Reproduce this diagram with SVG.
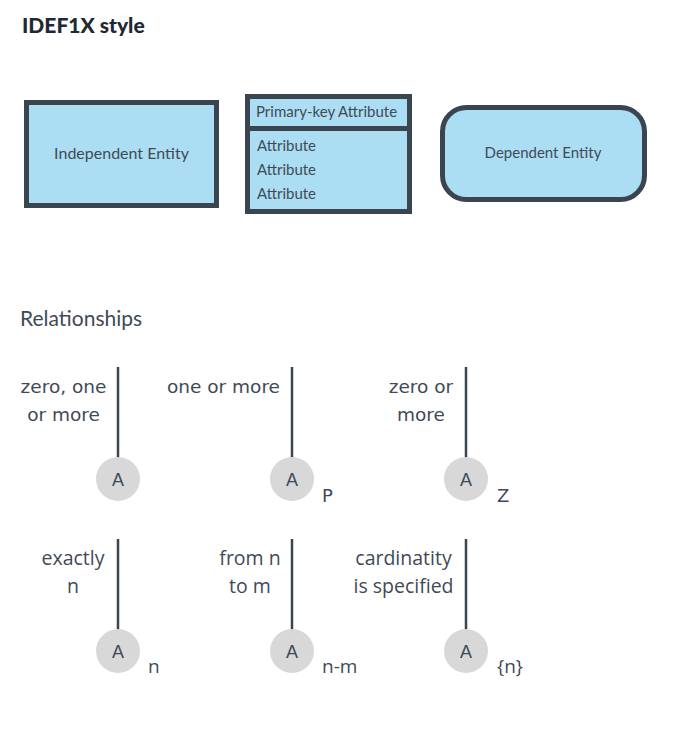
<svg xmlns="http://www.w3.org/2000/svg" width="691" height="730" viewBox="0 0 691 730">
<style>
.ent{fill:#acdef3;stroke:#3b4550;stroke-width:5}
.et{font-family:Lato,"Noto Sans",sans-serif;fill:#3f4a56}
.at{font-family:Lato,"Noto Sans",sans-serif;font-size:15px;fill:#3f4a56}
.conn line{stroke:#3b4550;stroke-width:2.5}
.bub{fill:#d8d8d8}
.a{font-family:"Liberation Sans",Arial,sans-serif;font-size:18px;fill:#3f4a56;text-anchor:middle}
.l1{font-family:"DejaVu Sans",sans-serif;font-size:18.5px;fill:#3f4a56;text-anchor:middle}
.l2{font-family:"Open Sans","Noto Sans",sans-serif;font-size:19.5px;fill:#3f4a56;text-anchor:middle}
.s1{font-family:"DejaVu Sans",sans-serif;font-size:18px;fill:#3f4a56}
.s2{font-family:"Open Sans","Noto Sans",sans-serif;font-size:19px;fill:#3f4a56}
</style>
<rect width="691" height="730" fill="#ffffff"/>
<text x="22" y="33" font-family="Lato,'Noto Sans',sans-serif" font-size="21" font-weight="900" fill="#1f2933">IDEF1X style</text>

<g id="independent-entity">
<rect class="ent" x="26.5" y="102.5" width="190" height="103"/>
<text class="et" x="121.5" y="159" font-size="16" text-anchor="middle">Independent Entity</text>
</g>

<g id="attribute-entity">
<rect class="ent" x="247.5" y="96.5" width="162" height="115"/>
<line x1="247" y1="128.5" x2="410" y2="128.5" stroke="#3b4550" stroke-width="5"/>
<text class="at" x="256" y="117">Primary-key Attribute</text>
<text class="at" x="257" y="151">Attribute</text>
<text class="at" x="257" y="175">Attribute</text>
<text class="at" x="257" y="199">Attribute</text>
</g>

<g id="dependent-entity">
<rect class="ent" x="442.5" y="107.5" width="202" height="92" rx="24" ry="24"/>
<text class="et" x="543" y="158" font-size="15" text-anchor="middle">Dependent Entity</text>
</g>

<text x="20" y="326" font-family="Lato,'Noto Sans',sans-serif" font-size="21" fill="#3f4a56">Relationships</text>

<g class="conn" id="connectors">
<line x1="118" y1="367" x2="118" y2="458"/>
<line x1="292" y1="367" x2="292" y2="458"/>
<line x1="466" y1="367" x2="466" y2="458"/>
<line x1="118" y1="539" x2="118" y2="630"/>
<line x1="292" y1="539" x2="292" y2="630"/>
<line x1="466" y1="539" x2="466" y2="630"/>
</g>

<g id="rel-zero-one-more">
<text class="l1" x="63.5" y="393">zero, one</text>
<text class="l1" x="63.5" y="421">or more</text>
<circle class="bub" cx="118" cy="479" r="22"/>
<text class="a" x="118" y="486">A</text>
</g>
<g id="rel-one-more">
<text class="l1" x="223.5" y="393">one or more</text>
<circle class="bub" cx="292" cy="479" r="22"/>
<text class="a" x="292" y="486">A</text>
<text class="s1" x="322" y="502">P</text>
</g>
<g id="rel-zero-more">
<text class="l1" x="421" y="393">zero or</text>
<text class="l1" x="421" y="421">more</text>
<circle class="bub" cx="466" cy="479" r="22"/>
<text class="a" x="466" y="486">A</text>
<text class="s1" x="497" y="502">Z</text>
</g>
<g id="rel-exactly-n">
<text class="l2" x="73" y="565">exactly</text>
<text class="l2" x="73" y="593">n</text>
<circle class="bub" cx="118" cy="651" r="22"/>
<text class="a" x="118" y="658">A</text>
<text class="s2" x="148" y="673">n</text>
</g>
<g id="rel-n-to-m">
<text class="l2" x="250" y="565">from n</text>
<text class="l2" x="250" y="593">to m</text>
<circle class="bub" cx="292" cy="651" r="22"/>
<text class="a" x="292" y="658">A</text>
<text class="s2" x="322" y="673">n-m</text>
</g>
<g id="rel-specified">
<text class="l2" x="403.5" y="565">cardinatity</text>
<text class="l2" x="403.5" y="593">is specified</text>
<circle class="bub" cx="466" cy="651" r="22"/>
<text class="a" x="466" y="658">A</text>
<text class="s2" x="497" y="673">{n}</text>
</g>
</svg>
